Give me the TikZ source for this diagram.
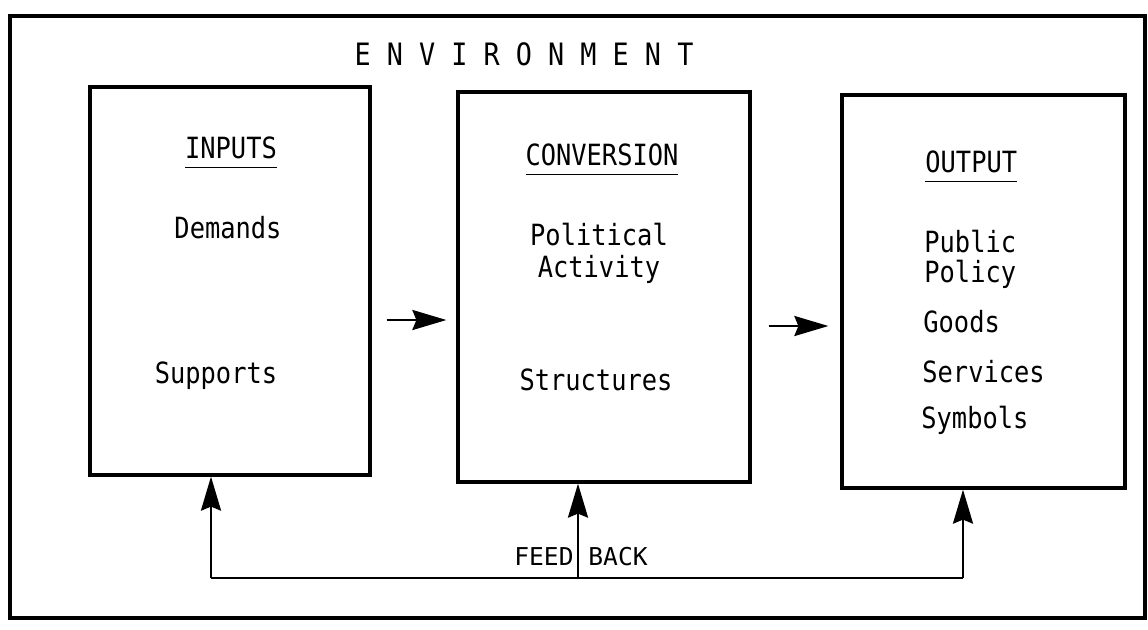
\documentclass[tikz,border=0pt]{standalone}
\usepackage{fontspec}
\setmainfont{DejaVu Sans Mono}
\usetikzlibrary{arrows.meta}
\newcommand{\tall}[1]{\scalebox{1}[1.15]{#1}}
\newcommand{\uline}[1]{\underline{\smash{#1}\vphantom{Ag}}}
\begin{document}
\begin{tikzpicture}[x=0.5pt,y=-0.5pt,
  txt/.style={font=\fontsize{12.7}{16}\selectfont, inner sep=0pt, anchor=base},
  boxnode/.style={draw, line width=1.6pt, inner sep=0pt},
  arr/.style={line width=1.3pt, -{Stealth[length=17pt,width=10pt,inset=2pt]}},
  fbline/.style={line width=1.3pt}
]
\useasboundingbox (0,0) rectangle (1148,629);
\fill[white] (0,0) rectangle (1148,629);
% environment frame
\draw[line width=2.2pt] (10,16) rectangle (1145,618);
\node[txt, font=\fontsize{13.4}{16}\selectfont] (env) at (524,65) {\tall{E N V I R O N M E N T}};

% boxes
\node[boxnode, minimum width=140pt, minimum height=194pt] (in) at (230,281) {};
\node[boxnode, minimum width=146pt, minimum height=195pt] (conv) at (604,287) {};
\node[boxnode, minimum width=141.5pt, minimum height=196.5pt] (out) at (983.5,291.5) {};

% inputs texts
\node[txt] (tin) at (231,158) {\tall{\uline{INPUTS}}};
\node[txt] (dem) at (228,238) {\tall{Demands}};
\node[txt] (sup) at (216,383) {\tall{Supports}};

% conversion texts
\node[txt] (tconv) at (602,165) {\tall{\uline{CONVERSION}}};
\node[txt] (pol) at (599,245) {\tall{Political}};
\node[txt] (act) at (599,277) {\tall{Activity}};
\node[txt] (str) at (596,390) {\tall{Structures}};

% output texts
\node[txt, anchor=base west] (tout) at (925,172) {\tall{\uline{OUTPUT}}};
\node[txt, anchor=base west] (pub) at (924,252) {\tall{Public}};
\node[txt, anchor=base west] (poly) at (924,282) {\tall{Policy}};
\node[txt, anchor=base west] (goods) at (923,332) {\tall{Goods}};
\node[txt, anchor=base west] (serv) at (922,382) {\tall{Services}};
\node[txt, anchor=base west] (sym) at (921,428) {\tall{Symbols}};

% forward arrows
\coordinate (a1) at (0,320);
\coordinate (a2) at (0,326);
\draw[arr, shorten <=7.5pt, shorten >=5pt] (in.east |- a1) -- (conv.west |- a1);
\draw[arr, shorten <=8.5pt, shorten >=6pt] (conv.east |- a2) -- (out.west |- a2);

% feedback
\coordinate (f1) at (211,578);
\coordinate (f2) at (578,578);
\coordinate (f3) at (963,578);
\draw[fbline] (f1) -- (f3);
\draw[arr] (f1) -- (f1 |- in.south);
\draw[arr] (f2) -- (f2 |- conv.south);
\draw[arr] (f3) -- (f3 |- out.south);
\node[txt, font=\fontsize{12.3}{16}\selectfont] (fb) at (581,565) {FEED BACK};
\end{tikzpicture}
\end{document}
